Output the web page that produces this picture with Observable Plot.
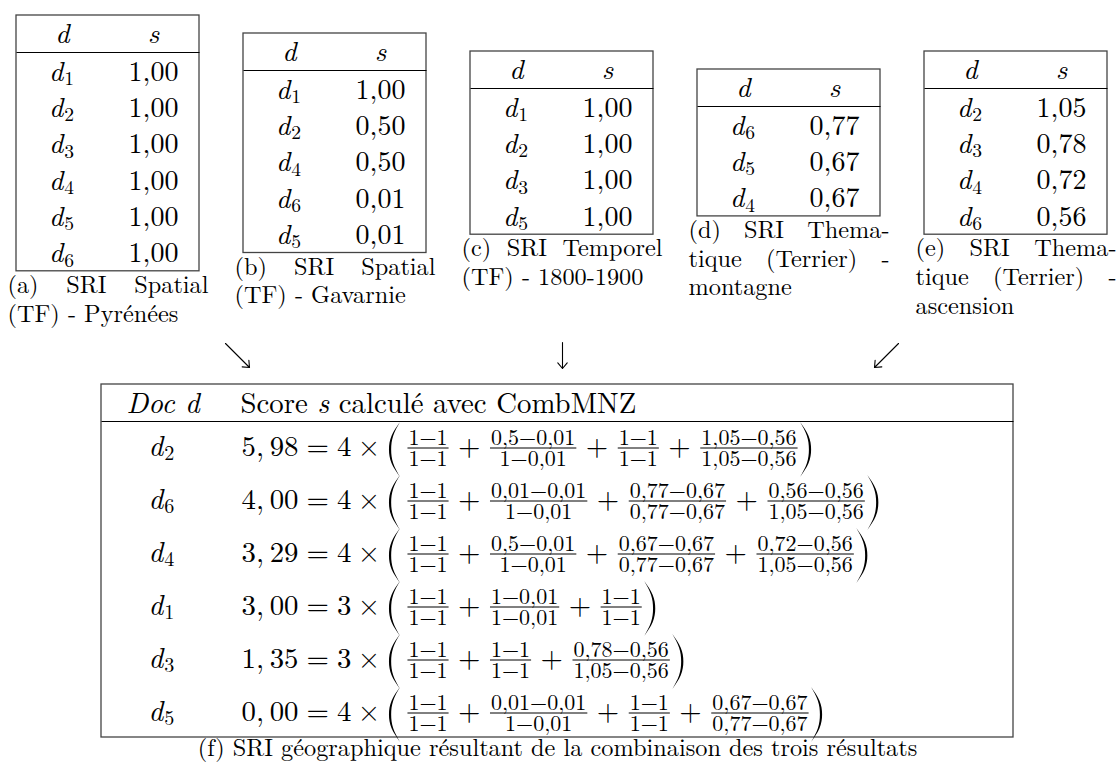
<!DOCTYPE html>
<html><head><meta charset="utf-8">
<script src="https://cdn.jsdelivr.net/npm/d3@7"></script>
<script src="https://cdn.jsdelivr.net/npm/@observablehq/plot@0.6"></script>
<style>html,body{margin:0;padding:0;background:#fff;}</style>
</head><body><div id="chart"></div>
<script>
// ---------- DATA ----------
const headerDoc = "d";
const headerScore = "s";

const docsA = ["d1","d2","d3","d4","d5","d6"];
const scoresA = ["1,00","1,00","1,00","1,00","1,00","1,00"];
const captionA = ["(a) SRI Spatial", "(TF) - Pyrénées"];

const docsB = ["d1","d2","d4","d6","d5"];
const scoresB = ["1,00","0,50","0,50","0,01","0,01"];
const captionB = ["(b) SRI Spatial", "(TF) - Gavarnie"];

const docsC = ["d1","d2","d3","d5"];
const scoresC = ["1,00","1,00","1,00","1,00"];
const captionC = ["(c) SRI Temporel", "(TF) - 1800-1900"];

const docsD = ["d6","d5","d4"];
const scoresD = ["0,77","0,67","0,67"];
const captionD = ["(d) SRI Thema-", "tique (Terrier) -", "montagne"];

const docsE = ["d2","d3","d4","d6"];
const scoresE = ["1,05","0,78","0,72","0,56"];
const captionE = ["(e) SRI Thema-", "tique (Terrier) -", "ascension"];

const headerF = ["Doc d", "Score", "s", "calculé avec CombMNZ"];
const docsF = ["d2","d6","d4","d1","d3","d5"];
const totalsF = [["5,","98"],["4,","00"],["3,","29"],["3,","00"],["1,","35"],["0,","00"]];
const factorsF = ["4", "4", "4", "3", "3", "4"];
const numeratorsF = [
  ["1−1","0,5−0,01","1−1","1,05−0,56"],
  ["1−1","0,01−0,01","0,77−0,67","0,56−0,56"],
  ["1−1","0,5−0,01","0,67−0,67","0,72−0,56"],
  ["1−1","1−0,01","1−1"],
  ["1−1","1−1","0,78−0,56"],
  ["1−1","0,01−0,01","1−1","0,67−0,67"]
];
const denominatorsF = [
  ["1−1","1−0,01","1−1","1,05−0,56"],
  ["1−1","1−0,01","0,77−0,67","1,05−0,56"],
  ["1−1","1−0,01","0,77−0,67","1,05−0,56"],
  ["1−1","1−0,01","1−1"],
  ["1−1","1−1","1,05−0,56"],
  ["1−1","1−0,01","1−1","0,77−0,67"]
];
const captionF = "(f) SRI géographique résultant de la combinaison des trois résultats";

// ---------- FONT ----------
const ctx = document.createElement("canvas").getContext("2d");
function hasFont(name) {
  const probe = "abcdefghijklmnopqrstuvwxyzABCDEFGHIJKLMNOPQRSTUVWXYZ0123456789(),-";
  for (const fb of ["monospace", "sans-serif"]) {
    ctx.font = `40px ${fb}`; const a = ctx.measureText(probe).width;
    ctx.font = `40px "${name}", ${fb}`; const b = ctx.measureText(probe).width;
    if (Math.abs(a - b) > 0.5) return true;
  }
  return false;
}
const isLM = hasFont("Latin Modern Roman");
const FAMILY = isLM ? "Latin Modern Roman" : "Liberation Serif";
const FONT = `"${FAMILY}", serif`;
const TS = isLM ? 28 : 29;     // top tables
const CS = isLM ? 24.3 : 26;   // sub-captions
const BS = isLM ? 28.8 : 30;   // bottom table
const FS = isLM ? 22 : 21;     // fractions
const CFS = isLM ? 24.3 : 25;  // caption (f)

function tw(s, size, italic = false) {
  ctx.font = `${italic ? "italic " : ""}${size}px ${FONT}`;
  return ctx.measureText(s).width;
}
const texts = [];
function put(x, y, text, size, italic = false) { texts.push({x, y, text, size, italic}); }
function putCenter(cx, y, text, size, italic = false) { put(cx - tw(text, size, italic) / 2, y, text, size, italic); }
function putDoc(cx, y, label, size) {
  const sub = label.slice(1), sz = size * 0.7;
  const wd = tw("d", size, true), ws = tw(sub, sz);
  const x0 = cx - (wd + ws + 1) / 2;
  put(x0, y, "d", size, true);
  put(x0 + wd + 1, y + size * 0.16, sub, sz);
}
function putJustified(x0, x1, y, line, size, justify) {
  const words = line.split(" ");
  if (!justify || words.length < 2) { put(x0, y, line, size); return; }
  const ws = words.map(w => tw(w, size));
  const gap = (x1 - x0 - d3.sum(ws)) / (words.length - 1);
  let x = x0;
  words.forEach((w, i) => { put(x, y, w, size); x += ws[i] + gap; });
}

const frames = [];
const links = [];
const parens = [];
const arrows = [];

// ---------- TOP TABLES ----------
const topTables = [
  {docs: docsA, scores: scoresA, caption: captionA, left: 16, top: 15},
  {docs: docsB, scores: scoresB, caption: captionB, left: 243, top: 33},
  {docs: docsC, scores: scoresC, caption: captionC, left: 470, top: 51},
  {docs: docsD, scores: scoresD, caption: captionD, left: 697, top: 69},
  {docs: docsE, scores: scoresE, caption: captionE, left: 924, top: 51}
];
const TW = 183, PITCH = 36.3;
topTables.forEach(t => {
  const L = t.left, T = t.top, H = T + 37;
  const B = H + t.docs.length * PITCH + 1;
  frames.push({x1: L, x2: L + TW, y1: T, y2: B});
  links.push({x1: L, x2: L + TW, y1: H, y2: H, w: 1.1});
  putCenter(L + 46, T + 27, headerDoc, TS, true);
  putCenter(L + 137, T + 27, headerScore, TS, true);
  t.docs.forEach((d, i) => {
    const by = H + (i + 0.5) * PITCH + 10;
    putDoc(L + 45, by, d, TS);
    putCenter(L + 137, by, t.scores[i], TS);
  });
  t.caption.forEach((line, j) => {
    putJustified(L - 9, L + 192, B + 21.5 + j * 28.7, line, CS, j < t.caption.length - 1);
  });
});

// ---------- ARROWS ----------
arrows.push({x1: 225, y1: 343, x2: 249, y2: 367});
arrows.push({x1: 562, y1: 342, x2: 562, y2: 368});
arrows.push({x1: 898, y1: 343, x2: 874, y2: 367});

// ---------- BOTTOM TABLE ----------
const FL = 101, FR = 1013, FT = 384, FH = 421, FB = 737;
frames.push({x1: FL, x2: FR, y1: FT, y2: FB});
links.push({x1: FL, x2: FR, y1: FH, y2: FH, w: 1.1});
put(126, 412, headerF[0], BS, true);
{
  let x = 240;
  put(x, 412, headerF[1], BS); x += tw(headerF[1] + " ", BS);
  put(x, 412, headerF[2], BS, true); x += tw(headerF[2], BS, true) + tw(" ", BS);
  put(x, 412, headerF[3], BS);
}
function addParen(xl, yb, left) {
  const top = yb - 33, bot = yb + 22, mid = (top + bot) / 2, h = bot - top;
  const w = 11, th = 2.2;
  const id = parens.length;
  const base = left ? xl : xl + w;
  const pts = [
    [top, w, w],
    [top + h * 0.25, 2.6, 2.6 + th * 0.75],
    [mid, 0, th],
    [bot - h * 0.25, 2.6, 2.6 + th * 0.75],
    [bot, w, w]
  ];
  pts.forEach(([y, o, i]) => {
    parens.push({id, y, x1: left ? base + o : base - o, x2: left ? base + i : base - i});
  });
}
const em = BS;
docsF.forEach((d, r) => {
  const yb = 455 + r * 53;
  putDoc(161, yb, d, BS);
  let x = 241;
  // total, with a thin space after the decimal comma (math mode)
  put(x, yb, totalsF[r][0], BS); x += tw(totalsF[r][0], BS) + em * 0.2;
  put(x, yb, totalsF[r][1], BS); x += tw(totalsF[r][1], BS) + em * 0.278;
  put(x, yb, "=", BS); x += tw("=", BS) + em * 0.278;
  put(x, yb, factorsF[r], BS); x += tw(factorsF[r], BS) + em * 0.222;
  put(x, yb, "×", BS); x += tw("×", BS) + em * 0.222 + 3;
  addParen(x, yb, true);
  x += 11 + 7;
  numeratorsF[r].forEach((num, j) => {
    const den = denominatorsF[r][j];
    if (j > 0) {
      x += 9.5;
      put(x, yb, "+", BS);
      x += tw("+", BS) + 9.5;
    }
    const w = Math.max(tw(num, FS), tw(den, FS)) + 2;
    links.push({x1: x, x2: x + w, y1: yb - 7.5, y2: yb - 7.5, w: 1});
    putCenter(x + w / 2, yb - 11, num, FS);
    putCenter(x + w / 2, yb + 10.5, den, FS);
    x += w;
  });
  x += 3;
  addParen(x, yb, false);
});
putCenter((FL + FR) / 2, 755, captionF, CFS);

// ---------- TEXT MARKS GROUPED BY SIZE/STYLE ----------
const groups = d3.groups(texts, t => `${t.size}|${t.italic}`);
const textMarks = groups.map(([key, arr]) => Plot.text(arr, {
  x: "x", y: "y", text: "text",
  fontSize: arr[0].size,
  fontFamily: FONT,
  ...(arr[0].italic ? {fontStyle: "italic"} : {}),
  textAnchor: "start", lineAnchor: "bottom", fill: "#000"
}));

const chart = Plot.plot({
  width: 1117, height: 762, margin: 0,
  style: {background: "#fff", fontFamily: FONT},
  x: {type: "linear", domain: [0, 1117], range: [0, 1117], axis: null},
  y: {type: "linear", domain: [0, 762], range: [0, 762], axis: null},
  marks: [
    Plot.rect(frames, {x1: "x1", x2: "x2", y1: "y1", y2: "y2", fill: "none", stroke: "#444", strokeWidth: 1.3}),
    Plot.link(links, {x1: "x1", x2: "x2", y1: "y1", y2: "y2", stroke: "#000", strokeWidth: d => d.w}),
    Plot.areaX(parens, {y: "y", x1: "x1", x2: "x2", z: "id", fill: "#000", curve: "natural"}),
    Plot.arrow(arrows, {x1: "x1", y1: "y1", x2: "x2", y2: "y2", stroke: "#000", strokeWidth: 1.1, headLength: 10, headAngle: 80}),
    ...textMarks
  ]
});
document.getElementById("chart").appendChild(chart);
</script>
</body></html>
